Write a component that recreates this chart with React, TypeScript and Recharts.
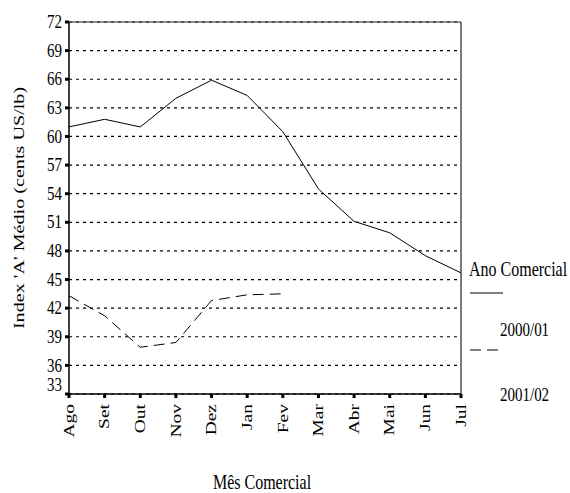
import React from 'react';
import { LineChart, Line, XAxis, YAxis, CartesianGrid, ReferenceLine, Legend } from 'recharts';

const months = ['Ago', 'Set', 'Out', 'Nov', 'Dez', 'Jan', 'Fev', 'Mar', 'Abr', 'Mai', 'Jun', 'Jul'];
const series2000 = [61.0, 61.8, 61.0, 64.0, 65.9, 64.3, 60.5, 54.5, 51.1, 49.9, 47.5, 45.7];
const series2001 = [43.3, 41.2, 37.9, 38.4, 42.8, 43.4, 43.5, null, null, null, null, null];
const yTicks = [33, 36, 39, 42, 45, 48, 51, 54, 57, 60, 63, 66, 69, 72];
const seriesNames = ['2000/01', '2001/02'];
const legendTitle = 'Ano Comercial';
const xTitle = 'Mês Comercial';
const yTitle = "Index 'A' Médio (cents US/lb)";

const FONT = '"Liberation Serif", "Times New Roman", serif';
const SY = 1.3;
const DASH = '11 6';

const data = months.map((m, i) => ({ month: m, s1: series2000[i], s2: series2001[i] }));

const YTick = (props: any) => {
  const { x, y, payload } = props;
  const dy = payload.value === yTicks[0] ? -9 : 0;
  return (
    <text
      transform={`translate(${x - 1},${y + dy}) scale(1,${SY})`}
      textAnchor="end"
      dominantBaseline="central"
      fontSize={15}
      fontFamily={FONT}
      fill="#000"
      stroke="none"
    >
      {payload.value}
    </text>
  );
};

const XTick = (props: any) => {
  const { x, y, payload } = props;
  return (
    <text
      transform={`translate(${x},${y + 4}) scale(1,${SY}) rotate(-90)`}
      textAnchor="end"
      dominantBaseline="central"
      fontSize={15}
      fontFamily={FONT}
      fill="#000"
      stroke="none"
    >
      {payload.value}
    </text>
  );
};

const XTitle = (props: any) => {
  const { viewBox } = props;
  const cx = viewBox.x + viewBox.width / 2 - 3;
  return (
    <text
      transform={`translate(${cx},${viewBox.y + 88}) scale(1,${SY})`}
      textAnchor="middle"
      dominantBaseline="central"
      fontSize={16}
      fontFamily={FONT}
      fill="#000"
      stroke="none"
    >
      {xTitle}
    </text>
  );
};

const YTitle = (props: any) => {
  const { viewBox } = props;
  const cy = viewBox.y + viewBox.height / 2;
  return (
    <text
      transform={`translate(19,${cy}) scale(1,${SY}) rotate(-90)`}
      textAnchor="middle"
      dominantBaseline="central"
      fontSize={15.5}
      fontFamily={FONT}
      fill="#000"
      stroke="none"
    >
      {yTitle}
    </text>
  );
};

const dashes = [undefined, DASH];

const renderLegend = (props: any) => {
  const payload = props.payload || [];
  return (
    <svg width={110} height={160} style={{ display: 'block' }}>
      <text
        transform={`translate(9,19) scale(1,${SY})`}
        dominantBaseline="central"
        fontSize={16}
        fontFamily={FONT}
        fill="#000"
        stroke="none"
      >
        {legendTitle}
      </text>
      {payload.map((entry: any, i: number) => {
        const lineY = 43 + i * 57;
        const textY = 80 + i * 65;
        return (
          <g key={i}>
            <line
              x1={10}
              x2={i === 0 ? 43 : 38}
              y1={lineY}
              y2={lineY}
              stroke="#000"
              strokeWidth={1.2}
              strokeDasharray={dashes[i]}
            />
            <text
              transform={`translate(40,${textY}) scale(1,${SY})`}
              dominantBaseline="central"
              fontSize={15}
              fontFamily={FONT}
              fill="#000"
              stroke="none"
            >
              {entry.value}
            </text>
          </g>
        );
      })}
    </svg>
  );
};

export default function App() {
  return (
    <div style={{ position: 'absolute', left: 0, top: 0, background: '#fff' }}>
      <LineChart
        width={570}
        height={493}
        data={data}
        margin={{ top: 22, right: 109, left: 0, bottom: 0 }}
      >
        <CartesianGrid
          vertical={false}
          stroke="#000"
          strokeWidth={1.2}
          strokeDasharray="3 4"
        />
        <XAxis
          dataKey="month"
          interval={0}
          height={99}
          tick={<XTick />}
          tickLine={{ stroke: '#000', strokeWidth: 3 }}
          tickSize={4}
          axisLine={{ stroke: '#000', strokeWidth: 1.5 }}
          label={<XTitle />}
        />
        <YAxis
          width={69}
          domain={[33, 72]}
          ticks={yTicks}
          interval={0}
          tick={<YTick />}
          tickLine={{ stroke: '#000', strokeWidth: 3 }}
          tickSize={4}
          axisLine={{ stroke: '#000', strokeWidth: 1.5 }}
          label={<YTitle />}
        />
        <ReferenceLine y={72} stroke="#222" strokeWidth={1.2} />
        <ReferenceLine x="Jul" stroke="#222" strokeWidth={1.2} />
        <Legend
          layout="horizontal"
          verticalAlign="middle"
          align="center"
          wrapperStyle={{ left: 460, top: 250, width: 110, height: 160 }}
          content={renderLegend}
        />
        <Line
          type="linear"
          dataKey="s1"
          name={seriesNames[0]}
          stroke="#000"
          strokeWidth={1}
          dot={false}
          isAnimationActive={false}
        />
        <Line
          type="linear"
          dataKey="s2"
          name={seriesNames[1]}
          stroke="#000"
          strokeWidth={1}
          strokeDasharray={DASH}
          dot={false}
          connectNulls={false}
          isAnimationActive={false}
        />
      </LineChart>
    </div>
  );
}
